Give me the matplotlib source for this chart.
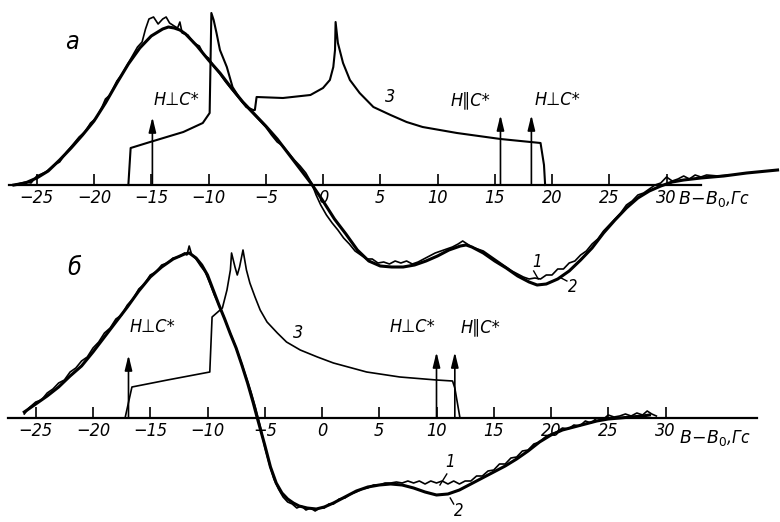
import matplotlib
matplotlib.use("Agg")
import matplotlib.pyplot as plt
import numpy as np

# ---- panel a (top) ----
ticks = [-25, -20, -15, -10, -5, 0, 5, 10, 15, 20, 25, 30]

a_smooth_x = [-27, -26, -25, -24, -23, -22, -21, -20, -19, -18, -17, -16, -15, -14, -13.5, -13,
              -12.5, -12, -11, -10, -9, -8, -7, -6, -5, -4, -3, -2, -1, 0, 1, 2, 3, 4, 5, 6, 7, 8,
              9, 10, 11, 12, 12.5, 13, 14, 15, 16, 17, 18, 18.7, 19.5, 20.5, 21.5, 22.5, 23.5, 24.5,
              25.5, 26.5, 27.5, 28.5, 29.5, 30.5, 31.5, 33, 35, 37, 39.7]
a_smooth_y = [0, 2, 7, 14, 25, 37, 50, 64, 82, 102, 121, 137, 149, 156, 158, 157,
              155, 151, 139, 125, 112, 97, 83, 71, 59, 46, 31, 16, 1, -16, -34, -49, -65, -76, -81, -82, -82, -80,
              -76, -71, -65, -61, -60, -62, -68, -76, -83, -91, -97, -100, -99, -94, -86, -75, -63, -48,
              -35, -23, -13, -6, -1, 3, 5, 7, 9, 12, 15]

a_noisy_x = [-27.0, -26.0, -25.5, -25.0, -24.2, -23.5, -23.0, -22.4, -21.8, -21.3, -20.8, -20.3, -19.8,
             -19.3, -19.0, -18.6, -18.0, -17.6, -17.0, -16.6, -16.2, -15.8, -15.5, -15.2, -14.8, -14.4,
             -14.0, -13.7, -13.4, -13.0, -12.7, -12.5, -12.3, -11.8, -11.3, -10.8, -10.4, -10.0, -9.5,
             -9.0, -8.5, -8.0, -7.5, -7.0, -6.5, -6.0, -5.5, -5.0, -4.5, -4.0, -3.5, -3.0, -2.5, -2.0,
             -1.5, -1.0, -0.6, -0.2, 0.3, 0.8, 1.3, 1.8, 2.3, 2.8, 3.3, 3.8, 4.3, 4.8, 5.3, 5.8, 6.3,
             6.8, 7.3, 7.8, 8.3, 8.8, 9.3, 9.8, 10.3, 10.8, 11.3, 11.8, 12.2, 12.6, 13.0, 13.5, 14.0,
             14.5, 15.0, 15.5, 16.0, 16.5, 17.0, 17.5, 18.0, 18.5, 19.0, 19.5, 20.0, 20.5, 21.0, 21.5,
             22.0, 22.5, 23.0, 23.5, 24.0, 24.5, 25.0, 25.5, 26.0, 26.5, 27.0, 27.5, 28.0, 28.5, 29.0,
             29.5, 30.0, 30.5, 31.0, 31.5, 32.0, 32.5, 33.0, 33.5, 34.5, 35.5]
a_noisy_y = [0, 3, 2, 9, 13, 20, 23, 33, 41, 48, 53, 62, 67,
             78, 86, 90, 104, 110, 122, 130, 138, 143, 156, 166, 168, 161,
             166, 168, 162, 159, 157, 163, 152, 150, 142, 139, 130, 127, 118,
             111, 103, 96, 89, 82, 76, 70, 64, 58, 50, 43, 39, 32, 25, 19,
             12, 2, -10, -20, -30, -38, -45, -53, -59, -66, -70, -74, -74, -78, -77, -79, -76,
             -78, -76, -79, -77, -74, -71, -68, -66, -64, -62, -59, -56, -59, -62, -64, -66,
             -70, -74, -78, -82, -86, -89, -92, -94, -93, -94, -90, -90, -84, -84, -78,
             -76, -70, -66, -59, -54, -46, -40, -34, -28, -20, -16, -10, -8, -4, 0,
             2, 8, 4, 6, 9, 6, 10, 8, 10, 9, 10]

a_c3_x = [-17.0, -16.8, -15.1, -12.2, -10.5, -9.9, -9.75, -9.55, -9.3, -9.0, -8.4, -7.9, -7.3, -6.7,
          -6.1, -5.95, -5.8, -3.5, -1.1, 0.0, 0.6, 0.9, 1.05, 1.1, 1.3, 1.75, 2.35, 3.2, 4.4, 5.9,
          7.3, 8.7, 11.7, 15.5, 19.0, 19.3, 19.4]
a_c3_y = [0, 37, 43, 53, 62, 72, 172, 165, 152, 135, 118, 98, 87, 78,
          75, 75, 88, 87, 90, 97, 105, 118, 135, 163, 142, 122, 105, 92, 78, 70,
          63, 58, 52, 46, 42, 20, 0]

a_arrow_x = [-14.9, 15.5, 18.2]
a_arrow_h = [68, 70, 70]
a_arrow_lab = ["H⊥C*", "H∥C*", "H⊥C*"]
a_lab_x = [-14.8, 11.1, 18.5]

# ---- panel b (bottom) ----
b_smooth_x = [-26, -25, -24, -23, -22, -21, -20, -19, -18, -17, -16, -15, -14, -13, -12, -11.6,
              -11, -10.5, -10, -9.5, -9, -8.5, -8, -7.5, -7, -6.5, -6, -5.7, -5, -4.5, -4, -3.5, -3,
              -2.5, -2, -1.3, -0.5, 0.2, 1, 2, 3, 4, 5, 6, 7, 8, 9, 10, 11, 12, 13, 14, 15, 16, 17,
              18, 19, 20, 21, 22, 23, 24, 25, 26, 27, 28, 28.6]
b_smooth_y = [6, 14, 22, 31, 42, 52, 66, 81, 96, 111, 127, 141, 151, 159, 164, 165,
              160, 153, 143, 128, 113, 99, 84, 70, 53, 35, 15, 2, -27, -49, -65, -75, -81,
              -85, -88, -90, -91, -89, -85, -79, -73, -69, -67, -66, -67, -70, -74, -77, -76, -72, -66, -60, -54, -48, -41,
              -33, -24, -17, -12, -9, -6, -3, -1, 0, 1, 2, 3]

b_noisy_x = [-26.0, -25.6, -25.0, -24.5, -24.0, -23.5, -23.0, -22.5, -22.0, -21.5, -21.0, -20.5, -20.0,
             -19.5, -19.0, -18.5, -18.0, -17.5, -17.0, -16.5, -16.0, -15.5, -15.0, -14.5, -14.0, -13.5,
             -13.0, -12.5, -12.0, -11.8, -11.6, -11.4, -11.0, -10.6, -10.2, -9.8, -9.4, -9.0, -8.6,
             -8.2, -7.8, -7.4, -7.0, -6.6, -6.2, -5.8, -5.4, -5.0, -4.6, -4.2, -3.8, -3.4, -3.0, -2.6,
             -2.2, -1.8, -1.4, -1.0, -0.6, -0.2, 0.2, 0.6, 1.0, 1.5, 2.0, 2.5, 3.0, 3.5, 4.0, 4.5, 5.0,
             5.5, 6.0, 6.5, 7.0, 7.5, 8.0, 8.5, 9.0, 9.5, 10.0, 10.5, 11.0, 11.5, 12.0, 12.5, 13.0,
             13.5, 14.0, 14.5, 15.0, 15.5, 16.0, 16.5, 17.0, 17.5, 18.0, 18.5, 19.0, 19.5, 20.0, 20.5,
             21.0, 21.5, 22.0, 22.5, 23.0, 23.5, 24.0, 24.5, 25.0, 25.5, 26.0, 26.5, 27.0, 27.5, 28.0,
             28.4, 28.8, 29.2]
b_noisy_y = [4, 10, 16, 18, 25, 29, 35, 38, 46, 50, 57, 61, 70,
             76, 85, 90, 99, 103, 113, 119, 129, 134, 143, 146, 153, 155,
             160, 161, 165, 163, 172, 164, 159, 152, 146, 135, 123, 113, 102,
             90, 79, 67, 54, 40, 26, 10, -8, -29, -46, -61, -71, -79, -84, -86,
             -90, -88, -92, -90, -93, -90, -90, -86, -86, -81, -80, -76, -74, -71, -70, -67, -67,
             -65, -65, -64, -65, -63, -65, -63, -66, -63, -65, -63, -66, -63, -66, -63, -63,
             -58, -58, -53, -52, -46, -46, -40, -39, -33, -32, -26, -24, -19, -16, -14,
             -10, -11, -7, -8, -3, -5, 0, -2, 3, 1, 2, 4, 2, 5, 3,
             7, 4, 2]

b_c3_x = [-17.2, -16.6, -13.5, -9.8, -9.6, -9.2, -8.7, -8.3, -8.0, -7.9, -7.6, -7.4, -7.2, -6.9,
          -6.6, -6.3, -5.85, -5.4, -4.8, -3.9, -3.1, -1.9, -0.4, 1.0, 3.9, 6.8, 10.0, 11.4, 11.6, 12.05]
b_c3_y = [0, 31, 38, 46, 101, 105, 110, 128, 148, 165, 151, 143, 151, 168,
          148, 135, 121, 108, 96, 85, 76, 68, 61, 55, 46, 41, 38, 37, 30, 0]

b_arrow_x = [-16.9, 10.0, 11.6]
b_arrow_h = [63, 66, 66]
b_arrow_lab = ["H⊥C*", "H⊥C*", "H∥C*"]
b_lab_x = [-16.8, 5.9, 12.1]

FONT = dict(family="DejaVu Sans", style="italic", stretch="condensed")
AXLABEL = r"$B\!-\!B_0$,Гс"


def setup_axes(ax, x0px, y0px, spine_end):
    # map data to figure pixels: px = x0px + 11.45 * x, py = y0px - y
    ax.set_xlim(-x0px / 11.45, (780 - x0px) / 11.45)
    ax.set_ylim(y0px - 522, y0px)
    ax.patch.set_alpha(0)
    for s in ["top", "right", "left"]:
        ax.spines[s].set_visible(False)
    ax.spines["bottom"].set_position(("data", 0))
    ax.spines["bottom"].set_bounds(-27.4, spine_end)
    ax.spines["bottom"].set_linewidth(1.6)
    ax.set_yticks([])
    ax.set_xticks(ticks)
    ax.set_xticklabels([str(t).replace("-", "−") for t in ticks], fontsize=13, **FONT)
    ax.tick_params(axis="x", direction="in", length=8, width=1.2, pad=3)


def draw_arrows(ax, xs, hs, labs, lab_x, lab_y):
    for x, h, lab, lx in zip(xs, hs, labs, lab_x):
        ax.annotate("", xy=(x, h), xytext=(x, 0),
                    arrowprops=dict(arrowstyle="-|>,head_length=0.9,head_width=0.22",
                                    lw=1.2, color="k", shrinkA=0, shrinkB=0))
        ax.text(lx, lab_y, lab, fontsize=13, ha="left", va="center", **FONT)


fig = plt.figure(figsize=(7.8, 5.22), dpi=100)
fig.patch.set_facecolor("white")

ax1 = fig.add_axes([0, 0, 1, 1])
setup_axes(ax1, 323, 185, 33)
ax1.plot(a_smooth_x, a_smooth_y, color="k", lw=2.2, solid_joinstyle="round")
ax1.plot(a_noisy_x, a_noisy_y, color="k", lw=1.2)
ax1.plot(a_c3_x, a_c3_y, color="k", lw=1.5)
draw_arrows(ax1, a_arrow_x, a_arrow_h, a_arrow_lab, a_lab_x, 85)
ax1.text(-21.9, 143, "а", fontsize=18, ha="center", va="center", **FONT)
ax1.text(5.85, 88, "3", fontsize=13, ha="center", va="center", **FONT)
ax1.text(18.7, -77, "1", fontsize=12, ha="center", va="center", **FONT)
ax1.plot([18.4, 18.8], [-86, -94], color="k", lw=1)
ax1.text(21.8, -102, "2", fontsize=12, ha="center", va="center", **FONT)
ax1.plot([21.3, 20.8], [-96, -93], color="k", lw=1)
ax1.text(31.0, -14, AXLABEL, fontsize=12.5, ha="left", va="center", **FONT)

ax2 = fig.add_axes([0, 0, 1, 1])
setup_axes(ax2, 322, 418, 38)
ax2.plot(b_smooth_x, b_smooth_y, color="k", lw=2.2, solid_joinstyle="round")
ax2.plot(b_noisy_x, b_noisy_y, color="k", lw=1.2)
ax2.plot(b_c3_x, b_c3_y, color="k", lw=1.2)
draw_arrows(ax2, b_arrow_x, b_arrow_h, b_arrow_lab, b_lab_x, 91)
ax2.text(-21.6, 150, "б", fontsize=18, ha="center", va="center", **FONT)
ax2.text(-2.1, 85, "3", fontsize=13, ha="center", va="center", **FONT)
ax2.text(11.2, -44, "1", fontsize=12, ha="center", va="center", **FONT)
ax2.plot([10.9, 10.3], [-56, -67], color="k", lw=1)
ax2.text(11.9, -93, "2", fontsize=12, ha="center", va="center", **FONT)
ax2.plot([11.2, 11.5], [-80, -86], color="k", lw=1)
ax2.text(31.2, -20, AXLABEL, fontsize=12.5, ha="left", va="center", **FONT)

fig.savefig("out.png", dpi=100, facecolor="white")
